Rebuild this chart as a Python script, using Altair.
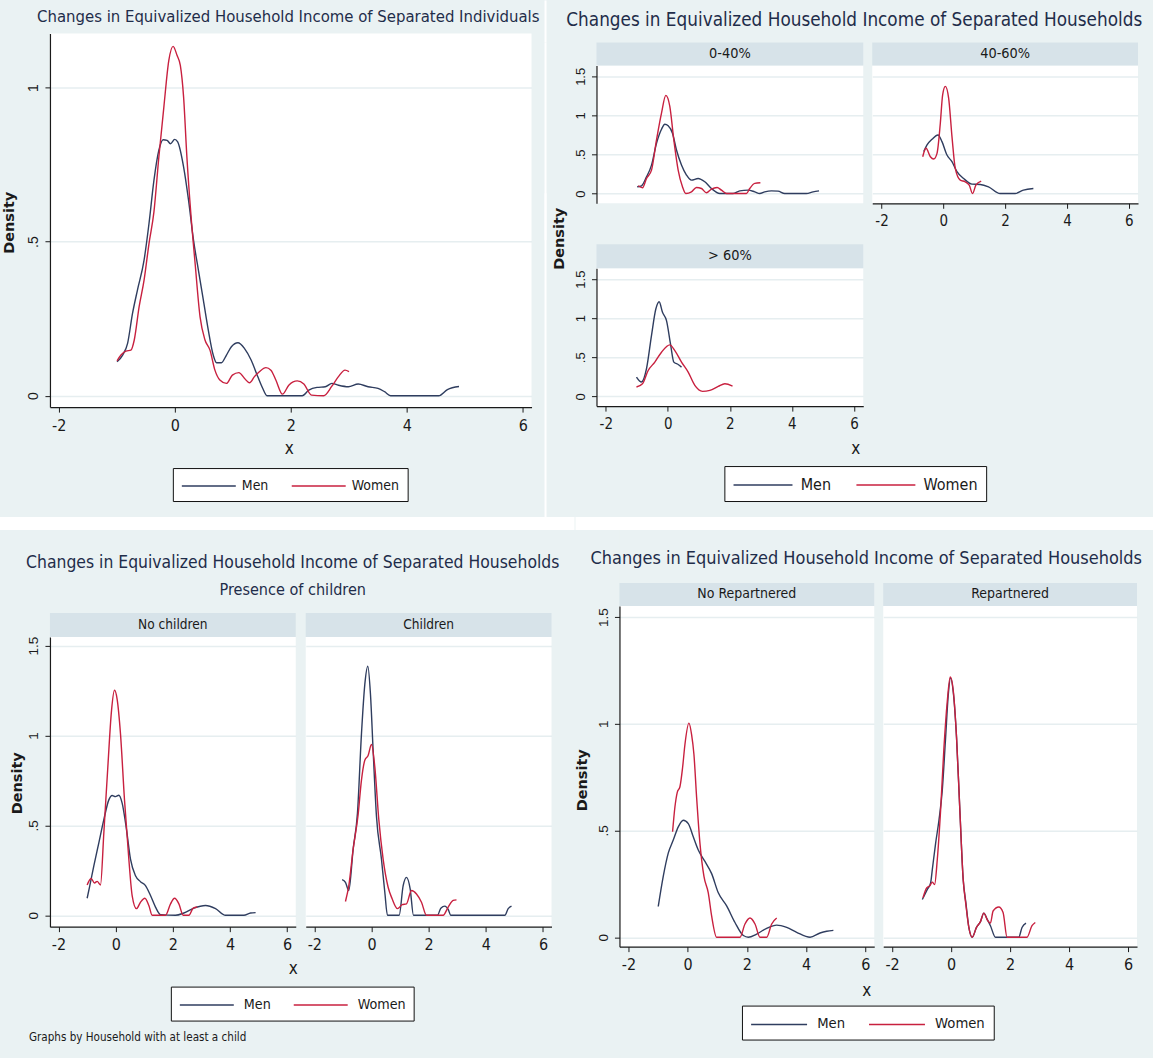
import altair as alt
import pandas as pd

# ---------------- data ----------------
SEXES = ["Men", "Women"]

# Top-left: separated individuals
Q1_MEN_X = [-0.994,-0.897,-0.812,-0.727,-0.642,-0.528,-0.443,-0.358,-0.273,-0.199,-0.131,-0.074,0,0.051,0.153,0.239,0.324,0.409,0.494,0.579,0.664,0.721,0.806,0.892,0.977,1.090,1.204,1.317,1.431,1.516,1.590,1.857,2.198,2.311,2.453,2.595,2.709,2.822,2.993,3.163,3.333,3.504,3.617,3.720,4.0,4.55,4.7,4.9]
Q1_MEN_Y = [0.110,0.132,0.170,0.267,0.343,0.44,0.559,0.699,0.797,0.831,0.829,0.818,0.832,0.824,0.743,0.634,0.505,0.407,0.310,0.213,0.132,0.107,0.107,0.132,0.159,0.172,0.153,0.116,0.062,0.024,0,0,0,0.018,0.027,0.029,0.040,0.034,0.029,0.038,0.029,0.024,0.013,0,0,0,0.02,0.03]
Q1_WOM_X = [-0.994,-0.926,-0.840,-0.755,-0.698,-0.613,-0.528,-0.443,-0.358,-0.273,-0.187,-0.102,-0.028,0.040,0.097,0.153,0.210,0.278,0.352,0.437,0.522,0.608,0.693,0.778,0.892,0.994,1.107,1.204,1.289,1.374,1.459,1.573,1.658,1.743,1.857,1.970,2.112,2.226,2.357,2.567,2.709,2.822,2.936,3.004]
Q1_WOM_Y = [0.113,0.132,0.145,0.148,0.180,0.289,0.375,0.494,0.597,0.775,0.937,1.088,1.134,1.105,1.072,0.970,0.775,0.591,0.429,0.256,0.181,0.148,0.083,0.051,0.040,0.067,0.075,0.056,0.042,0.062,0.078,0.091,0.083,0.051,0.005,0.035,0.048,0.038,0.002,0,0.031,0.062,0.083,0.078]

# Top-right: households by income group
P040_MEN_X = [-0.988,-0.848,-0.687,-0.526,-0.365,-0.204,-0.097,0.011,0.150,0.279,0.440,0.601,0.762,0.977,1.192,1.406,1.675,2.104,2.319,2.587,2.802,2.963,3.124,3.339,3.553,3.768,4.466,4.681,4.874]
P040_MEN_Y = [0.086,0.099,0.214,0.364,0.643,0.823,0.887,0.866,0.772,0.557,0.364,0.236,0.171,0.193,0.150,0.064,0,0,0.034,0.043,0.021,0,0.021,0.034,0.030,0,0,0.021,0.034]
P040_WOM_X = [-0.955,-0.816,-0.687,-0.526,-0.365,-0.204,-0.064,0.064,0.193,0.333,0.472,0.580,0.762,0.923,1.084,1.245,1.406,1.589,1.728,1.889,2.534,2.641,2.802,2.984]
P040_WOM_Y = [0.099,0.073,0.193,0.300,0.686,1.029,1.256,1.114,0.686,0.300,0.086,0,0.021,0.077,0.064,0.009,0.056,0.077,0.043,0,0,0.064,0.129,0.137]
P4060_MEN_X = [-0.634,-0.527,-0.366,-0.172,-0.043,0.118,0.280,0.441,0.656,0.925,1.194,1.462,1.839,2.323,2.591,2.914]
P4060_MEN_Y = [0.536,0.622,0.694,0.750,0.664,0.493,0.407,0.279,0.193,0.120,0.116,0.086,0,0,0.043,0.064]
P4060_WOM_X = [-0.667,-0.559,-0.419,-0.312,-0.204,-0.097,-0.022,0.065,0.172,0.280,0.387,0.548,0.710,0.839,0.946,1.054,1.226]
P4060_WOM_Y = [0.471,0.579,0.471,0.441,0.514,0.900,1.264,1.372,1.222,0.729,0.321,0.171,0.150,0.107,0,0.107,0.159]
P60_MEN_X = [-1.011,-0.849,-0.688,-0.527,-0.387,-0.280,-0.172,-0.043,0.086,0.194,0.333,0.441]
P60_MEN_Y = [0.246,0.183,0.353,0.778,1.118,1.211,1.075,0.969,0.671,0.438,0.408,0.374]
P60_WOM_X = [-1.011,-0.817,-0.634,-0.419,-0.204,0.065,0.226,0.441,0.656,0.871,1.118,1.355,1.624,1.839,2.086]
P60_WOM_Y = [0.119,0.161,0.331,0.438,0.565,0.659,0.586,0.438,0.310,0.140,0.064,0.077,0.127,0.161,0.132]

# Bottom-left: presence of children
NC_MEN_X = [-0.999,-0.905,-0.765,-0.590,-0.415,-0.240,-0.124,-0.007,0.110,0.226,0.378,0.518,0.693,0.868,1.043,1.218,1.393,1.568,2.093,2.385,2.735,3.144,3.494,3.844,4.486,4.720,4.895]
NC_MEN_Y = [0.095,0.165,0.275,0.403,0.532,0.642,0.666,0.660,0.668,0.624,0.477,0.312,0.220,0.187,0.165,0.110,0.046,0.004,0,0.013,0.040,0.055,0.037,0,0,0.013,0.015]
NC_WOM_X = [-0.999,-0.859,-0.742,-0.649,-0.532,-0.415,-0.275,-0.147,-0.042,0.051,0.168,0.308,0.460,0.576,0.728,0.868,1.020,1.160,1.277,1.744,1.919,2.059,2.211,2.362,2.560,2.712,2.852]
NC_WOM_Y = [0.169,0.205,0.180,0.189,0.169,0.458,0.825,1.137,1.251,1.201,1.009,0.642,0.312,0.110,0.037,0.073,0.095,0.055,0,0,0.064,0.095,0.064,0,0,0.040,0.046]
CH_MEN_X = [-1.027,-0.910,-0.793,-0.642,-0.490,-0.350,-0.233,-0.128,-0.035,0.058,0.175,0.350,0.467,0.560,0.968,1.109,1.225,1.354,1.470,2.310,2.427,2.567,2.684,2.777,4.667,4.784,4.900]
CH_MEN_Y = [0.198,0.183,0.138,0.367,0.568,1.009,1.284,1.385,1.229,0.917,0.550,0.312,0.128,0,0,0.165,0.211,0.147,0,0,0.040,0.051,0.033,0,0,0.037,0.051]
CH_WOM_X = [-0.910,-0.793,-0.642,-0.467,-0.350,-0.233,-0.117,0,0.117,0.257,0.408,0.583,0.723,0.910,1.074,1.225,1.400,1.575,1.750,1.925,2.509,2.684,2.859,2.975]
CH_WOM_Y = [0.077,0.165,0.367,0.559,0.752,0.862,0.889,0.950,0.825,0.532,0.312,0.156,0.092,0.037,0.059,0.064,0.138,0.119,0.073,0,0,0.046,0.083,0.086]

# Bottom-right: repartnering
NR_MEN_X = [-0.991,-0.822,-0.653,-0.484,-0.315,-0.146,0.023,0.191,0.360,0.586,0.811,1.036,1.318,1.599,1.881,2.050,2.331,2.669,3.007,3.345,3.682,4.133,4.471,4.696,4.921]
NR_MEN_Y = [0.144,0.285,0.394,0.455,0.517,0.548,0.532,0.471,0.409,0.355,0.298,0.208,0.147,0.069,0.008,0,0.015,0.042,0.057,0.046,0.023,0,0.020,0.028,0.032]
NR_WOM_X = [-0.507,-0.428,-0.349,-0.259,-0.169,-0.090,0.045,0.135,0.214,0.304,0.417,0.552,0.698,0.811,0.980,1.768,1.937,2.106,2.275,2.444,2.669,2.838,3.007]
NR_WOM_Y = [0.494,0.610,0.679,0.705,0.795,0.903,1.003,0.949,0.856,0.656,0.440,0.285,0.208,0.100,0,0,0.062,0.090,0.062,0,0,0.062,0.090]
RP_MEN_X = [-0.975,-0.806,-0.694,-0.638,-0.525,-0.412,-0.300,-0.187,-0.097,-0.018,0.072,0.185,0.297,0.410,0.500,0.601,0.714,0.860,0.995,1.108,1.221,1.333,1.502,2.291,2.403,2.538]
RP_MEN_Y = [0.177,0.224,0.255,0.316,0.440,0.548,0.687,0.934,1.134,1.215,1.150,0.934,0.594,0.270,0.162,0.046,0,0.046,0.073,0.113,0.085,0.054,0,0,0.046,0.066]
RP_WOM_X = [-0.952,-0.828,-0.716,-0.638,-0.559,-0.469,-0.356,-0.243,-0.131,-0.029,0.072,0.185,0.297,0.410,0.500,0.601,0.714,0.860,0.995,1.108,1.243,1.333,1.423,1.615,1.761,1.896,2.572,2.741,2.853]
RP_WOM_Y = [0.185,0.231,0.242,0.258,0.247,0.363,0.594,0.887,1.103,1.219,1.157,0.934,0.594,0.270,0.154,0.046,0,0.046,0.073,0.113,0.077,0.066,0.123,0.142,0.116,0,0,0.054,0.069]

X_TICKS = [-2, 0, 2, 4, 6]
Y_TICKS_Q1 = [0, 0.5, 1]
Y_TICKS = [0, 0.5, 1, 1.5]

TITLE_IND = "Changes in Equivalized Household Income of Separated Individuals"
TITLE_HH = "Changes in Equivalized Household Income of Separated Households"
SUBTITLE_CH = "Presence of children"
NOTE_CH = "Graphs by Household with at least a child"

# ---------------- style ----------------
BG = "#EAF2F3"
STRIP = "#D7E3E9"
GRID = "#E6EEF0"
MEN_C = "#2f3d5f"
WOM_C = "#c8203f"
TITLE_C = "#1f2d4a"
TXT = "#1a1a1a"
AXC = "#1a1a1a"
NARROW = "DejaVu Sans Condensed, Liberation Sans Narrow, Arial Narrow, sans-serif"
REG = "Liberation Sans, Arial, sans-serif"
WIDE_B = "DejaVu Sans, Verdana, sans-serif"

X0 = 50  # left edge of the left-column plots


def rows_of(mx, my, wx, wy):
    out = []
    for sex, xs, ys in (("Men", mx, my), ("Women", wx, wy)):
        for i, (x, y) in enumerate(zip(xs, ys, strict=True)):
            out.append({"x": x, "y": y, "sex": sex, "i": i})
    return pd.DataFrame(out)


def deco_rect(x1, x2, y1, y2, color):
    return alt.Chart(alt.Data(values=[{"d": 0}])).mark_rect(color=color, opacity=1).encode(
        x=alt.value(x1), x2=alt.value(x2), y=alt.value(y1), y2=alt.value(y2))


def deco_text(txt, x, y, size, font=NARROW, color=TXT, align="center", weight="normal"):
    return alt.Chart(alt.Data(values=[{"t": txt}])).mark_text(
        font=font, fontSize=size, color=color, align=align, baseline="middle", fontWeight=weight
    ).encode(text="t:N", x=alt.value(x), y=alt.value(y))


def make_legend(lx, ly, fs, L=54, gap=8, colpad=20):
    # line sample of length L: custom path [-3,3] scaled by sqrt(size)/2 = L/6
    s = L / 3.0
    return alt.Legend(orient="none", legendX=lx, legendY=ly, direction="horizontal", title=None,
                      symbolType="M-3,0H3", symbolSize=s * s, symbolStrokeWidth=1.5,
                      symbolOffset=s, labelOffset=s + gap - 1,
                      labelFont=NARROW, labelFontSize=fs, labelColor=TXT,
                      strokeColor="#111111", fillColor="white", padding=8,
                      columnPadding=colpad)


def color_enc(legend=None):
    return alt.Color("sex:N", scale=alt.Scale(domain=SEXES, range=[MEN_C, WOM_C]), legend=legend)


def panel(df, W, H, xdom, ydom, yticks, strip=None, strip_h=0, strip_fs=14,
          show_x=True, show_y=True, xlab_fs=16, ylab_fs=14, x_title=None, y_title=None,
          legend=None, extras=()):
    if show_x:
        kw = dict(values=X_TICKS, labelExpr="'' + datum.value", labelFont=NARROW, labelFontSize=xlab_fs,
                  labelColor=TXT, labelPadding=5, labelFlush=False, labelOverlap=False,
                  tickSize=5, tickColor=AXC, domainColor=AXC, domainWidth=1.2, grid=False)
        if x_title:
            kw.update(title="x", titleFont=NARROW, titleFontSize=17, titleFontWeight="normal",
                      titleColor=TXT, titleX=x_title[0], titleY=x_title[1],
                      titleAlign="center", titleBaseline="middle")
        else:
            kw.update(title=None)
        xaxis = alt.Axis(**kw)
    else:
        xaxis = None
    if show_y:
        kw = dict(values=yticks,
                  labelExpr="datum.value == 0 ? '0' : datum.value == 1 ? '1' : datum.value == 1.5 ? '1.5' : '.5'",
                  labelAngle=270, labelAlign="center", labelBaseline="bottom", labelFont=REG,
                  labelFontSize=ylab_fs, labelColor=TXT, labelPadding=4, labelFlush=False, labelOverlap=False,
                  tickSize=5, tickColor=AXC, domainColor=AXC, domainWidth=1.2,
                  grid=True, gridColor=GRID, gridWidth=1.5)
        if y_title:
            kw.update(title="Density", titleFont=WIDE_B, titleFontSize=14.5, titleFontWeight="bold",
                      titleColor=TXT, titleX=y_title[0], titleY=y_title[1], titleAngle=270,
                      titleAlign="center", titleBaseline="middle")
        else:
            kw.update(title=None)
        yaxis = alt.Axis(**kw)
    else:
        yaxis = alt.Axis(values=yticks, labels=False, ticks=False, domain=False, grid=True,
                         gridColor=GRID, gridWidth=1.5, title=None)
    lines = alt.Chart(df).mark_line(strokeWidth=1.4, interpolate="monotone").encode(
        x=alt.X("x:Q", scale=alt.Scale(domain=xdom, nice=False, zero=False), axis=xaxis),
        y=alt.Y("y:Q", scale=alt.Scale(domain=ydom, nice=False, zero=False), axis=yaxis),
        color=color_enc(legend),
        order=alt.Order("i:Q"),
    )
    layers = []
    if strip:
        layers.append(deco_rect(0, W, -strip_h, 0, STRIP))
        layers.append(deco_text(strip, W / 2, -strip_h / 2, strip_fs))
    layers.append(lines)
    layers.extend(extras)
    return alt.layer(*layers).properties(width=W, height=H,
                                          view=alt.ViewBackground(fill="white", stroke=None))


def title_view(W, H, layers):
    return alt.layer(*layers).properties(width=W, height=H,
                                          view=alt.ViewBackground(fill=BG, stroke=None))


def legend_view(W, H, legend, extras=()):
    key = alt.Chart(pd.DataFrame({"sex": SEXES})).mark_line(strokeWidth=1.5).encode(
        x=alt.value(0), y=alt.value(0), color=color_enc(legend))
    return alt.layer(key, *extras).properties(width=W, height=H,
                                              view=alt.ViewBackground(fill=BG, stroke=None))


def indep(c):
    return c.resolve_scale(color="independent")

# ---------------- top-left quadrant ----------------
W1 = 532 - X0
T1 = title_view(W1, 33, [deco_rect(-X0, 545 - X0, 0, 1, BG),
                         deco_text(TITLE_IND, 288.5 - X0, 17, 16.6, color=TITLE_C)])
P1 = panel(rows_of(Q1_MEN_X, Q1_MEN_Y, Q1_WOM_X, Q1_WOM_Y), W1, 374, [-2.15, 6.15], [-0.037, 1.176],
           Y_TICKS_Q1, xlab_fs=16, ylab_fs=14, x_title=(289 - X0, 41), y_title=(10 - X0, 189),
           legend=make_legend(173 - X0, 468 - 33, 14, L=54, gap=6, colpad=20))
Q1 = indep(alt.vconcat(T1, P1, spacing=0))

# ---------------- top-right quadrant ----------------
YD2 = [-0.125, 1.64]
XD = [-2.3, 6.3]
T2 = title_view(267, 42, [deco_rect(-52, -50, 0, 42, "white"),
                          deco_text(TITLE_HH, 258, 20, 18.8, color=TITLE_C)])
P040 = panel(rows_of(P040_MEN_X, P040_MEN_Y, P040_WOM_X, P040_WOM_Y), 267, 138, XD, YD2, Y_TICKS,
             strip="0-40%", strip_h=23, strip_fs=14.4, show_x=False, ylab_fs=13,
             extras=[deco_rect(-52, -50, -23, 175, "white")])
P4060 = panel(rows_of(P4060_MEN_X, P4060_MEN_Y, P4060_WOM_X, P4060_WOM_Y), 266, 138, XD, YD2, Y_TICKS,
              strip="40-60%", strip_h=23, strip_fs=14.4, show_y=False, xlab_fs=15)
# P60: its white separator starts 75 px above its plot (covers the shared "Density" title)
P60 = panel(rows_of(P60_MEN_X, P60_MEN_Y, P60_WOM_X, P60_WOM_Y), 267, 138, XD, YD2, Y_TICKS,
            strip="> 60%", strip_h=24, strip_fs=14.4, xlab_fs=15, ylab_fs=13, x_title=(259, 42),
            y_title=(-37, -30),
            legend=make_legend(128, 198, 16, L=59, gap=8, colpad=22),
            extras=[deco_rect(-52, -50, -75, 249, "white")])
R1 = indep(alt.hconcat(P040, P4060, spacing=9))
# R1 bottom = 240 (white rect), P60 top extent = 75 -> origin 240 - 47 + 75 = 268
C2 = indep(alt.vconcat(R1, P60, spacing=-47))
Q2 = indep(alt.vconcat(T2, C2, spacing=0))

# ---------------- bottom-left quadrant ----------------
YD3 = [-0.063, 1.548]
T3 = title_view(246, 83, [deco_rect(-X0, 575 - X0, -13, 0, "white"),
                          deco_text(TITLE_HH, 293 - X0, 33, 17.4, color=TITLE_C),
                          deco_text(SUBTITLE_CH, 293 - X0, 60, 16.1, color=TITLE_C)])
PNC = panel(rows_of(NC_MEN_X, NC_MEN_Y, NC_WOM_X, NC_WOM_Y), 246, 290, XD, YD3, Y_TICKS,
            strip="No children", strip_h=24, strip_fs=13.6, xlab_fs=16, ylab_fs=13.5,
            x_title=(293 - X0, 42), y_title=(17.6 - X0, 146),
            extras=[deco_rect(0, 1, 344, 345, BG)])
PC = panel(rows_of(CH_MEN_X, CH_MEN_Y, CH_WOM_X, CH_WOM_Y), 246, 290, XD, YD3, Y_TICKS,
           strip="Children", strip_h=24, strip_fs=13.6, show_y=False, xlab_fs=16)
C3 = indep(alt.hconcat(PNC, PC, spacing=8))
L3 = legend_view(246, 1, make_legend(171 - X0, 2, 14.2, L=54, gap=10, colpad=20),
                 extras=[deco_text(NOTE_CH, 29 - X0, 53, 11.6, align="left"),
                         deco_rect(0, 1, 72, 73, BG)])
Q3 = indep(alt.vconcat(T3, C3, L3, spacing=0))

# ---------------- bottom-right quadrant ----------------
YD4 = [-0.044, 1.552]
T4 = title_view(255, 53, [deco_rect(-44, 534, -13, 0, "white"),
                          deco_text(TITLE_HH, 866 - 619, 29, 18.0, color=TITLE_C)])
PNR = panel(rows_of(NR_MEN_X, NR_MEN_Y, NR_WOM_X, NR_WOM_Y), 255, 341, XD, YD4, Y_TICKS,
            strip="No Repartnered", strip_h=23, strip_fs=14, xlab_fs=16, ylab_fs=13.5,
            x_title=(247, 44), y_title=(-37, 174),
            extras=[deco_rect(0, 1, 394, 395, BG)])
PR = panel(rows_of(RP_MEN_X, RP_MEN_Y, RP_WOM_X, RP_WOM_Y), 254, 341, XD, YD4, Y_TICKS,
           strip="Repartnered", strip_h=23, strip_fs=14, show_y=False, xlab_fs=16)
C4 = indep(alt.hconcat(PNR, PR, spacing=9))
L4 = legend_view(255, 1, make_legend(122.6, 2, 14.7, L=56, gap=10, colpad=20),
                 extras=[deco_rect(0, 1, 52, 53, BG)])
Q4 = indep(alt.vconcat(T4, C4, L4, spacing=0))

row1 = indep(alt.hconcat(Q1, Q2, spacing=0))
row2 = indep(alt.hconcat(Q3, Q4, spacing=0))
chart = indep(alt.vconcat(row1, row2, spacing=0)).properties(
    padding=0, background=BG
).configure_view(stroke=None)

chart.save("out.html", embed_options={"renderer": "svg", "actions": False})
